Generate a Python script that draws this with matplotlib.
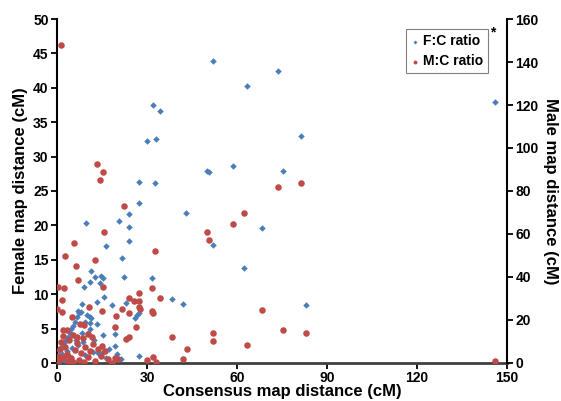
import matplotlib
matplotlib.use('Agg')
import matplotlib.pyplot as plt

plt.rcParams['font.family'] = ['Liberation Sans', 'DejaVu Sans']
plt.rcParams['font.weight'] = 'bold'

# F:C ratio -> consensus (cM), female (cM)
fc_x = [52.1, 32.1, 34.3, 30.0, 33.0, 50.0, 50.6, 27.4, 32.7, 73.8, 63.2, 81.3, 58.6, 75.4, 146.1,
        27.4, 43.0, 9.6, 20.8, 24.0, 24.0, 23.9, 16.3, 51.9, 68.3, 21.6, 62.2, 11.3, 12.8, 14.6,
        15.4, 22.3, 8.9, 11.1, 14.4, 15.7, 31.6, 38.3, 41.9, 82.9, 18.3, 13.4, 8.3, 7.0, 7.4,
        7.9, 6.6, 9.9, 11.0, 11.4, 11.0, 11.0, 25.9, 26.8, 27.4, 31.6, 15.4, 19.4, 19.3, 12.1,
        13.8, 14.9, 27.4, 21.3, 6.0, 5.4, 4.8, 4.3, 3.8, 3.0, 2.3, 1.6, 0.8, 22.9,
        0.3, 0.6, 1.2, 1.8, 2.5, 3.3, 4.0, 5.0, 6.2, 7.0, 8.2, 8.8, 9.5, 10.2, 12.4, 16.2,
        17.5, 19.9, 13.3, 9.2]
fc_y = [43.9, 37.5, 36.7, 32.3, 32.6, 27.9, 27.8, 26.3, 26.1, 42.5, 40.3, 33.0, 28.7, 27.9, 37.9,
        23.3, 21.8, 20.3, 20.7, 21.7, 19.7, 17.8, 17.0, 17.1, 19.6, 15.2, 13.8, 13.3, 12.5, 12.6,
        12.4, 12.5, 11.1, 11.7, 11.6, 9.6, 12.4, 9.3, 8.6, 8.5, 8.5, 8.9, 8.6, 7.6, 7.2,
        7.4, 6.7, 7.0, 6.7, 6.6, 5.8, 5.0, 6.6, 7.0, 7.3, 7.2, 4.0, 4.2, 2.4, 1.6,
        1.4, 1.4, 1.0, 0.6, 6.0, 5.4, 5.0, 4.4, 3.8, 3.3, 2.9, 2.4, 1.9, 8.7,
        0.4, 1.0, 0.6, 1.3, 0.5, 1.8, 1.0, 2.2, 3.4, 2.6, 4.3, 3.0, 1.2, 4.4, 3.3, 0.7,
        2.0, 1.3, 5.6, 5.9]

# M:C ratio -> consensus (cM), male (cM)
mc_x = [1.2, 13.3, 15.4, 14.3, 73.8, 81.3, 22.3, 62.2, 58.6, 15.8, 50.1, 50.7, 5.6, 32.7, 2.7,
        12.6, 6.2, 7.1, 15.4, 0.4, 2.3, 31.6, 27.3, 34.3, 1.6, 24.1, 25.7, 27.4, 10.8, 21.7,
        27.4, 27.7, 0.1, 1.6, 15.1, 31.7, 32.1, 24.0, 4.9, 19.6, 68.3, 7.7, 9.0, 26.3, 19.3,
        2.1, 3.2, 52.1, 51.9, 75.4, 82.9, 38.3, 24.1, 23.0, 11.6, 15.1, 63.2, 43.2, 19.3, 20.4,
        41.9, 30.0, 32.1, 33.0, 18.2, 146.0,
        0.3, 0.8, 1.1, 1.5, 2.0, 2.8, 3.5, 4.0, 4.8, 5.4, 6.0, 6.6, 7.3, 8.0, 8.7, 9.5,
        10.2, 11.0, 12.0, 12.8, 13.6, 14.6, 16.0, 17.0, 0.5, 1.0, 2.5, 3.8, 5.5, 9.0, 10.5, 6.8]
mc_y = [148.0, 92.7, 88.8, 85.1, 82.0, 83.7, 72.8, 69.7, 64.7, 60.9, 60.7, 57.3, 55.8, 52.2, 49.8,
        48.1, 44.9, 38.5, 35.3, 35.3, 35.1, 35.1, 32.5, 30.4, 29.2, 30.4, 28.6, 28.7, 26.2, 25.3,
        26.2, 25.0, 25.2, 23.9, 24.1, 24.4, 23.4, 23.4, 21.6, 22.0, 24.8, 18.2, 17.6, 16.9, 16.9,
        15.4, 15.4, 14.0, 10.2, 15.2, 13.8, 12.2, 12.0, 11.2, 12.2, 8.1, 8.2, 6.5, 2.5, 1.9,
        1.9, 1.4, 2.9, 0.5, 0.1, 1.0,
        1.0, 3.2, 6.5, 9.8, 12.5, 7.4, 4.0, 10.8, 2.2, 13.0, 6.0, 9.4, 1.5, 4.6, 11.5, 7.6,
        2.8, 5.4, 9.0, 1.0, 6.3, 3.4, 5.5, 1.8, 0.3, 1.8, 2.6, 0.8, 0.5, 0.6, 13.5, 12.0]

x_ticks = [0, 30, 60, 90, 120, 150]
left_ticks = [0, 5, 10, 15, 20, 25, 30, 35, 40, 45, 50]
right_ticks = [0, 20, 40, 60, 80, 100, 120, 140, 160]

blue = '#4a7ebb'
red = '#be4b48'

fig = plt.figure(figsize=(5.61, 4.01), dpi=100)
ax = fig.add_axes([0.1016, 0.0948, 0.8021, 0.8578])
ax2 = ax.twinx()

ax.scatter(fc_x, fc_y, marker='D', s=11, color=blue, linewidths=0, label='F:C ratio', zorder=3)
ax2.scatter(mc_x, mc_y, marker='o', s=22, color=red, linewidths=0, label='M:C ratio', zorder=3)

ax.set_xlim(0, 150)
ax.set_ylim(0, 50)
ax2.set_ylim(0, 160)
ax.set_xticks(x_ticks)
ax.set_yticks(left_ticks)
ax2.set_yticks(right_ticks)

for a in (ax, ax2):
    a.spines['top'].set_visible(False)
    a.tick_params(labelsize=10, width=1.3, length=4, direction='out', pad=2)
ax.spines['left'].set_linewidth(1.5)
ax2.spines['right'].set_linewidth(1.5)
ax.spines['bottom'].set_linewidth(2)
ax.spines['bottom'].set_color('#404040')
ax2.spines['bottom'].set_visible(False)
ax2.spines['left'].set_visible(False)
ax.spines['right'].set_visible(False)

ax.set_xlabel('Consensus map distance (cM)', fontsize=12, fontweight='bold', labelpad=-1)
ax.set_ylabel('Female map distance (cM)', fontsize=12, fontweight='bold', labelpad=4)
ax2.set_ylabel('Male map distance (cM)', fontsize=12, fontweight='bold', rotation=270, labelpad=14)

h1, l1 = ax.get_legend_handles_labels()
h2, l2 = ax2.get_legend_handles_labels()
leg = ax2.legend(h1 + h2, l1 + l2, loc='upper right', bbox_to_anchor=(0.958, 0.97),
                 borderaxespad=0, fancybox=False, framealpha=1, edgecolor='#808080',
                 fontsize=10, handlelength=0.6, handletextpad=0.3, borderpad=0.35,
                 labelspacing=0.45, markerscale=0.6)
leg.get_frame().set_linewidth(0.8)
ax2.text(0.969, 0.962, '*', transform=ax2.transAxes, fontsize=10, fontweight='bold',
         ha='center', va='center')

fig.savefig('out.png', dpi=100)
